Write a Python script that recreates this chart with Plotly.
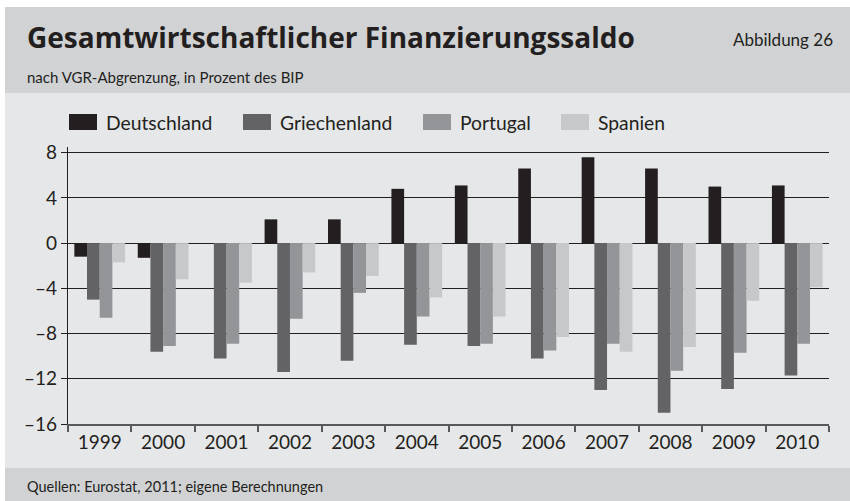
import plotly.graph_objects as go

years = ["1999", "2000", "2001", "2002", "2003", "2004", "2005", "2006", "2007", "2008", "2009", "2010"]
series_names = ["Deutschland", "Griechenland", "Portugal", "Spanien"]
deutschland = [-1.2, -1.3, 0.0, 2.1, 2.1, 4.8, 5.1, 6.6, 7.6, 6.6, 5.0, 5.1]
griechenland = [-5.0, -9.6, -10.2, -11.4, -10.4, -9.0, -9.1, -10.2, -13.0, -15.0, -12.9, -11.7]
portugal = [-6.6, -9.1, -8.9, -6.7, -4.4, -6.5, -8.9, -9.5, -8.9, -11.3, -9.7, -8.9]
spanien = [-1.7, -3.2, -3.5, -2.6, -2.9, -4.8, -6.5, -8.3, -9.6, -9.2, -5.1, -3.9]
colors = ["#231f20", "#636366", "#939598", "#c7c8ca"]
y_ticks = [-16, -12, -8, -4, 0, 4, 8]
y_ticktext = ["–16", "–12", "–8", "–4", "0", "4", "8"]

W, H = 850, 501
L, R, T, B = 68, 829, 147, 424

def px(x):
    return (x - L) / (R - L)

def py(y):
    return (B - y) / (B - T)

FONT = "Lato"
fig = go.Figure()
for name, vals, col in zip(series_names, [deutschland, griechenland, portugal, spanien], colors):
    fig.add_trace(go.Bar(x=years, y=vals, name=name, marker=dict(color=col, line=dict(width=0)),
                         showlegend=False))

shapes = []
# background bands
shapes.append(dict(type="rect", xref="paper", yref="paper", x0=px(5), x1=px(851), y0=py(7), y1=py(93),
                   fillcolor="#d1d2d4", line=dict(width=0), layer="below"))
shapes.append(dict(type="rect", xref="paper", yref="paper", x0=px(5), x1=px(851), y0=py(93), y1=py(468),
                   fillcolor="#e6e7e8", line=dict(width=0), layer="below"))
shapes.append(dict(type="rect", xref="paper", yref="paper", x0=px(5), x1=px(851), y0=py(468), y1=py(502),
                   fillcolor="#d1d2d4", line=dict(width=0), layer="below"))

annotations = []
# legend
leg_x = [69, 243, 423, 561]
for name, col, lx in zip(series_names, colors, leg_x):
    shapes.append(dict(type="rect", xref="paper", yref="paper", x0=px(lx), x1=px(lx + 28), y0=py(130), y1=py(114),
                       fillcolor=col, line=dict(width=0)))
    annotations.append(dict(text=name, xref="paper", yref="paper", x=px(lx + 35), y=py(122),
                            xanchor="left", yanchor="middle", showarrow=False,
                            font=dict(family=FONT, size=19.3, color="#231f20")))

annotations.append(dict(text="<b>Gesamtwirtschaftlicher Finanzierungssaldo</b>", xref="paper", yref="paper",
                        x=px(25), y=py(37), xanchor="left", yanchor="middle", showarrow=False,
                        font=dict(family="Open Sans", size=28, color="#231f20")))
annotations.append(dict(text="nach VGR-Abgrenzung, in Prozent des BIP", xref="paper", yref="paper",
                        x=px(25), y=py(77), xanchor="left", yanchor="middle", showarrow=False,
                        font=dict(family=FONT, size=15, color="#231f20")))
annotations.append(dict(text="Abbildung 26", xref="paper", yref="paper",
                        x=px(835), y=py(39), xanchor="right", yanchor="middle", showarrow=False,
                        font=dict(family=FONT, size=17, color="#231f20")))
annotations.append(dict(text="Quellen: Eurostat, 2011; eigene Berechnungen", xref="paper", yref="paper",
                        x=px(25), y=py(486), xanchor="left", yanchor="middle", showarrow=False,
                        font=dict(family=FONT, size=14.5, color="#231f20")))

fig.update_layout(
    width=W, height=H,
    margin=dict(l=L, r=W - R, t=T, b=H - B, pad=0),
    paper_bgcolor="white", plot_bgcolor="#e6e7e8",
    barmode="group", bargap=0.2, bargroupgap=0,
    shapes=shapes, annotations=annotations,
    font=dict(family=FONT, color="#231f20"),
    xaxis=dict(type="category", tickson="boundaries", ticks="outside", ticklen=6, tickwidth=1.5,
               tickcolor="#58595b", showline=True, linecolor="#58595b", linewidth=2,
               showgrid=False, tickfont=dict(family=FONT, size=19, color="#231f20"), fixedrange=True),
    yaxis=dict(range=[-16, 8.5], tickvals=y_ticks, ticktext=y_ticktext, ticks="outside", ticklen=6,
               tickwidth=1.2, tickcolor="#231f20", showline=True, linecolor="#231f20", linewidth=1.3,
               showgrid=True, gridcolor="#231f20", gridwidth=1.2,
               zeroline=True, zerolinecolor="#231f20", zerolinewidth=1.3,
               tickfont=dict(family=FONT, size=19, color="#231f20"), fixedrange=True),
)

fig.write_html("out.html", config={"displayModeBar": False},
               post_script="document.body.style.margin='0';document.body.style.overflow='hidden';")
